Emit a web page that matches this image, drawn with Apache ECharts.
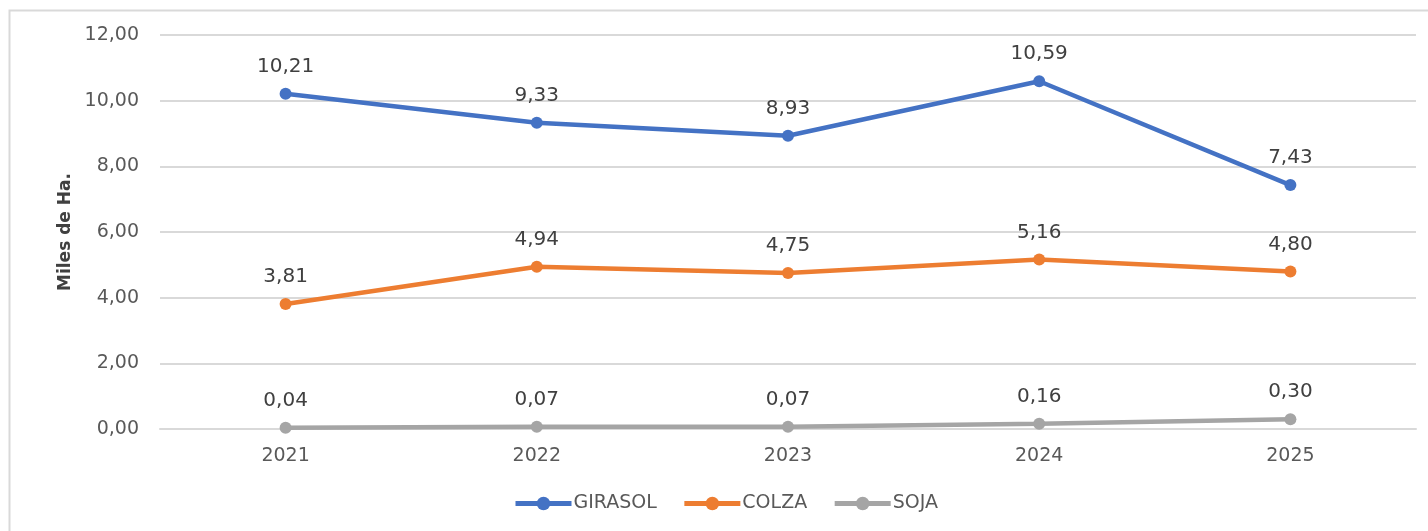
<!DOCTYPE html>
<html><head><meta charset="utf-8">
<script src="https://cdn.jsdelivr.net/npm/echarts@6/dist/echarts.min.js"></script>
<style>html,body{margin:0;padding:0;background:#fff}#c{width:1428px;height:531px}</style>
</head><body><div id="c"></div>
<script>
var categories = ['2021','2022','2023','2024','2025'];
var girasol = [10.21, 9.33, 8.93, 10.59, 7.43];
var colza = [3.81, 4.94, 4.75, 5.16, 4.80];
var soja = [0.04, 0.07, 0.07, 0.16, 0.30];
var seriesNames = ['GIRASOL','COLZA','SOJA'];
var colors = ['#4472C4','#ED7D31','#A5A5A5'];
var font = 'DejaVu Sans';
function fmt(v){return v.toFixed(2).replace('.',',');}
function mk(name, data, color){
  return {name:name,type:'line',data:data,symbol:'circle',symbolSize:12,
    lineStyle:{width:4.5,color:color},itemStyle:{color:color},
    label:{show:true,position:'top',distance:11,fontFamily:font,fontSize:20,color:'#404040',
      formatter:function(p){return fmt(p.value);}},
    emphasis:{disabled:true},animation:false};
}
var chart = echarts.init(document.getElementById('c'));
chart.setOption({
  animation:false,
  graphic:[{type:'rect',shape:{x:9.5,y:10.5,width:1430,height:540},style:{fill:'none',stroke:'#D9D9D9',lineWidth:2},z:-1}],
  grid:{left:160,right:12,top:35,bottom:102,containLabel:false},
  legend:{bottom:13,left:508,itemWidth:56,itemHeight:17,itemGap:25,
    lineStyle:{width:5},
    textStyle:{fontFamily:font,fontSize:19,color:'#595959',padding:[0,0,0,-3]},
    data:seriesNames},
  xAxis:{type:'category',data:categories,boundaryGap:true,
    axisLine:{show:true,lineStyle:{color:'#D9D9D9',width:2}},axisTick:{show:false},
    axisLabel:{fontFamily:font,fontSize:19,color:'#595959',margin:18}},
  yAxis:{type:'value',min:0,max:12,interval:2,
    name:'Miles de Ha.',nameLocation:'middle',nameGap:86,nameRotate:90,
    nameTextStyle:{fontFamily:font,fontSize:17,fontWeight:'bold',color:'#404040'},
    axisLine:{show:false},axisTick:{show:false},
    splitLine:{lineStyle:{color:'#D9D9D9',width:2}},
    axisLabel:{fontFamily:font,fontSize:19,color:'#595959',margin:21,formatter:function(v){return fmt(v);}}},
  series:[mk(seriesNames[0],girasol,colors[0]),mk(seriesNames[1],colza,colors[1]),mk(seriesNames[2],soja,colors[2])]
});
</script></body></html>
